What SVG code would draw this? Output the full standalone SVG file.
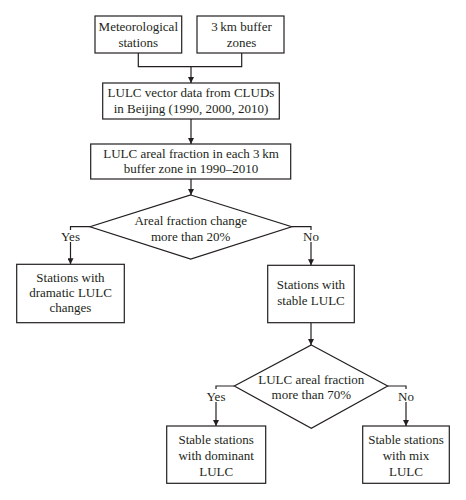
<svg xmlns="http://www.w3.org/2000/svg" width="466" height="500" viewBox="0 0 466 500">
<defs>
<marker id="arr" markerWidth="6" markerHeight="6" refX="6" refY="3" orient="auto" markerUnits="userSpaceOnUse">
<path d="M0,0 L6,3 L0,6 Z" fill="#231f20"/>
</marker>
</defs>
<style>
.n rect,.n polygon{fill:#fff;stroke:#231f20;stroke-width:1.2}
.c path{fill:none;stroke:#231f20;stroke-width:1.2}
text{font-family:'Liberation Serif','Times New Roman',serif;font-size:13px;fill:#231f20;text-anchor:middle}
</style>
<rect width="466" height="500" fill="#fff"/>
<g class="c" id="connectors">
<path d="M138.3,53 V66.7 H241.7 V53"/>
<path d="M191,66.7 V83" marker-end="url(#arr)"/>
<path d="M191,119 V144" marker-end="url(#arr)"/>
<path d="M191,179 V195" marker-end="url(#arr)"/>
<path d="M90,226.7 H70.5 V230"/>
<path d="M70.5,242 V264.3" marker-end="url(#arr)"/>
<path d="M291.7,226.7 H311 V230"/>
<path d="M311,242 V265.3" marker-end="url(#arr)"/>
<path d="M311,322.7 V345" marker-end="url(#arr)"/>
<path d="M234.3,386 H216 V389"/>
<path d="M216,402 V426" marker-end="url(#arr)"/>
<path d="M387.7,386 H406 V389"/>
<path d="M406,402 V426" marker-end="url(#arr)"/>
<text x="70.5" y="241">Yes</text>
<text x="311" y="241">No</text>
<text x="216" y="400.5">Yes</text>
<text x="406" y="400.5">No</text>
</g>
<g id="met" class="n">
<rect x="95" y="16" width="86.7" height="37"/>
<text x="138.3" y="30.5">Meteorological</text>
<text x="138.3" y="46.5">stations</text>
</g>
<g id="buffer" class="n">
<rect x="197" y="16" width="87" height="37"/>
<text x="241.5" y="30.5">3&#8201;km buffer</text>
<text x="241.5" y="46.5">zones</text>
</g>
<g id="lulcvec" class="n">
<rect x="102.7" y="83" width="176.6" height="36"/>
<text x="191" y="97.3">LULC vector data from CLUDs</text>
<text x="191" y="113.3">in Beijing (1990, 2000, 2010)</text>
</g>
<g id="fraction" class="n">
<rect x="90.7" y="144" width="200" height="35"/>
<text x="191" y="157.5">LULC areal fraction in each 3&#8201;km</text>
<text x="191" y="172.8">buffer zone in 1990–2010</text>
</g>
<g id="dec1" class="n">
<polygon points="190.7,195 291.7,226.7 190.7,259 90,226.7"/>
<text x="190.7" y="225">Areal fraction change</text>
<text x="190.7" y="240.5">more than 20%</text>
</g>
<g id="dramatic" class="n">
<rect x="16.7" y="264.3" width="107.6" height="58.4"/>
<text x="70.5" y="281.7">Stations with</text>
<text x="70.5" y="296.9">dramatic LULC</text>
<text x="70.5" y="312.1">changes</text>
</g>
<g id="stable" class="n">
<rect x="267.7" y="265.3" width="86.6" height="57.4"/>
<text x="311" y="289.3">Stations with</text>
<text x="311" y="304.7">stable LULC</text>
</g>
<g id="dec2" class="n">
<polygon points="311.3,345 387.7,386 311.3,428.3 234.3,386"/>
<text x="311.3" y="384">LULC areal fraction</text>
<text x="311.3" y="399.3">more than 70%</text>
</g>
<g id="dominant" class="n">
<rect x="166.7" y="426" width="99" height="57.3"/>
<text x="216.2" y="443.5">Stable stations</text>
<text x="216.2" y="459.7">with dominant</text>
<text x="216.2" y="475.9">LULC</text>
</g>
<g id="mix" class="n">
<rect x="362.7" y="426" width="86.6" height="57.3"/>
<text x="406" y="443.5">Stable stations</text>
<text x="406" y="459.7">with mix</text>
<text x="406" y="475.9">LULC</text>
</g>
</svg>
